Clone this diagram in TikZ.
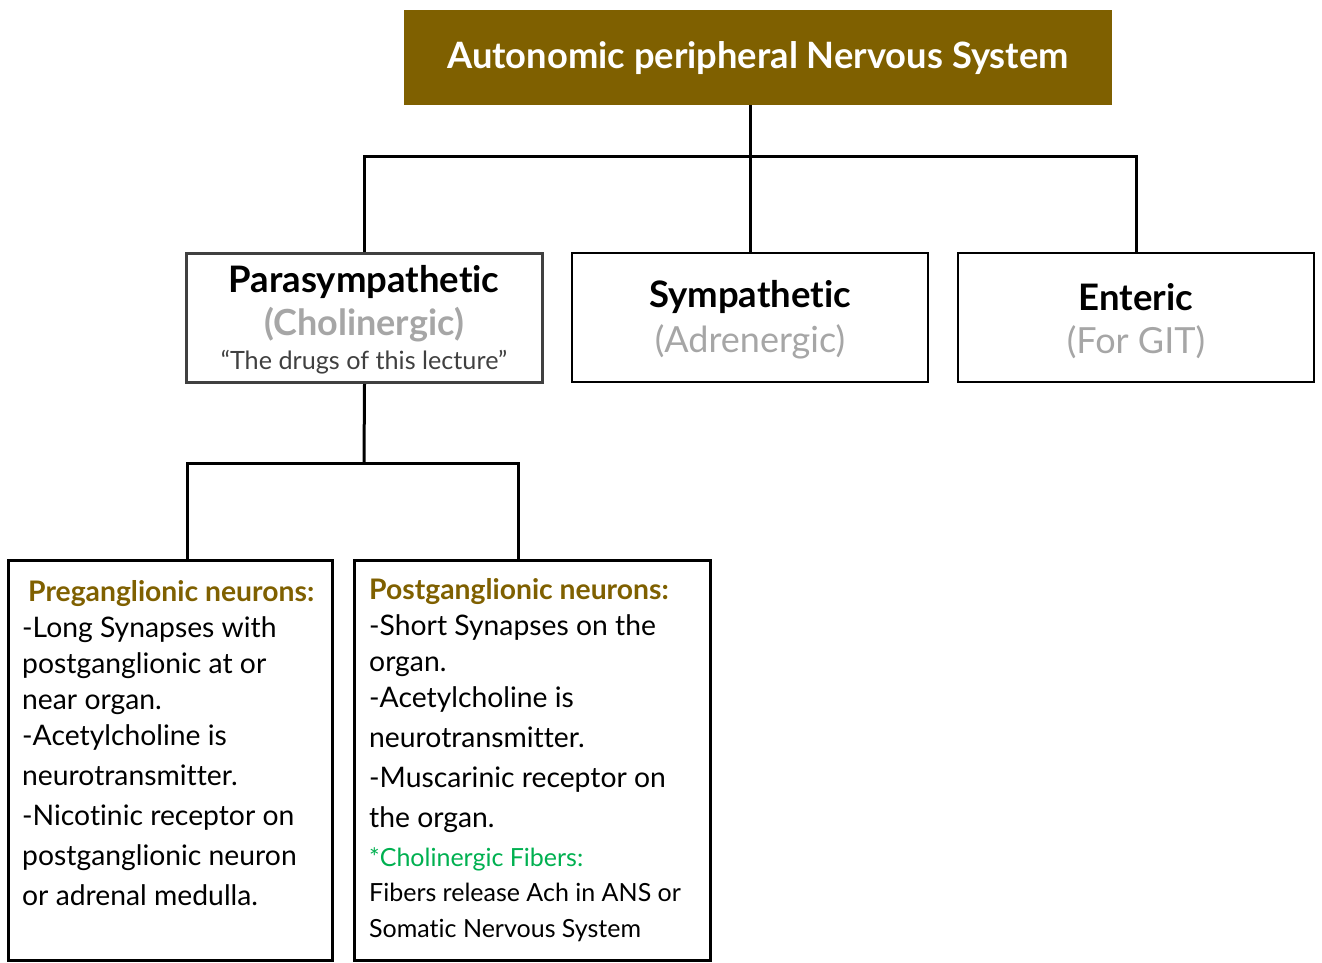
\documentclass[tikz,border=0pt]{standalone}
\usepackage{fontspec}
\setmainfont{Lato}[Ligatures=NoCommon]
\definecolor{nsbrown}{HTML}{7F6000}
\definecolor{nsgray}{HTML}{A6A6A6}
\definecolor{nsdark}{HTML}{404040}
\definecolor{nsgreen}{HTML}{00B050}
\newcommand{\fs}[1]{\fontsize{#1}{#1}\selectfont}
\begin{document}
\begin{tikzpicture}[x=1pt, y=-1pt,
    box/.style={draw, line width=2pt, minimum width=356pt, minimum height=129pt},
    conn/.style={line width=3pt},
    head/.style={font=\fs{36.5}\bfseries},
    sub/.style={font=\fs{36}, text=nsgray},
    item/.style={anchor=base west, font=\fs{28.3}, inner sep=0pt}]
  \useasboundingbox (0,0) rectangle (1322,962);
  % boxes
  \node[fill=nsbrown, minimum width=708pt, minimum height=95pt] (ans) at (758,57.5) {};
  \node[box, draw=nsdark, line width=3pt] (para) at (364.5,318) {};
  \node[box] (symp) at (750,317.5) {};
  \node[box] (ent) at (1136,317.5) {};
  \node[box, line width=3pt, minimum width=324pt, minimum height=400pt] (pre) at (170,760) {};
  \node[box, line width=3pt, minimum width=356pt, minimum height=400pt] (post) at (532,760) {};
  % connectors
  \coordinate (top) at (750,156);
  \coordinate (low) at (364,463);
  \draw[conn] (ans.south -| top) -- (top);
  \draw[conn] (para.north) |- (ent.north |- top) -- (ent.north);
  \draw[conn] (symp.north) -- (symp.north |- top);
  \draw[conn] (para.south) -- (low);
  \draw[conn] (pre.north -| 187,0) |- (518,463) -- (post.north -| 518,0);
  % texts
  \node[text=white, font=\fs{36.3}\bfseries] (ansT) at (758,58) {Autonomic peripheral Nervous System};
  \node[head, font=\fs{36.5}\bfseries] (paraT) at (364,282) {Parasympathetic};
  \node[sub, font=\fs{36}\bfseries] (paraS) at (364,325) {(Cholinergic)};
  \node[text=nsdark, font=\fs{25.2}] (paraQ) at (364,362) {“The drugs of this lecture”};
  \node[head] (sympT) at (750,297) {Sympathetic};
  \node[sub] (sympS) at (750,342) {(Adrenergic)};
  \node[head] (entT) at (1136,297) {Enteric};
  \node[sub] (entS) at (1136,342) {(For GIT)};
  \node[item, text=nsbrown, font=\fs{28.3}\bfseries] (preT) at (28,601) {Preganglionic neurons:};
  \foreach \y/\t [count=\i] in {637/-Long Synapses with, 673/postganglionic at or, 709/near organ.,
      745/-Acetylcholine is, 785/neurotransmitter., 825/-Nicotinic receptor on,
      865/postganglionic neuron, 905/or adrenal medulla.}
    \node[item] (pre\i) at (22,\y) {\t};
  \node[item, text=nsbrown, font=\fs{28.3}\bfseries] (postT) at (369,599) {Postganglionic neurons:};
  \foreach \y/\t [count=\i] in {635/-Short Synapses on the, 671/organ., 707/-Acetylcholine is,
      747/neurotransmitter., 787/-Muscarinic receptor on, 827/the organ.}
    \node[item] (post\i) at (369,\y) {\t};
  \node[item, text=nsgreen, font=\fs{25}] (fib) at (369,866) {*Cholinergic Fibers:};
  \node[item, font=\fs{25}] (fib1) at (369,901) {Fibers release Ach in ANS or};
  \node[item, font=\fs{25}] (fib2) at (369,937) {Somatic Nervous System};
\end{tikzpicture}
\end{document}
